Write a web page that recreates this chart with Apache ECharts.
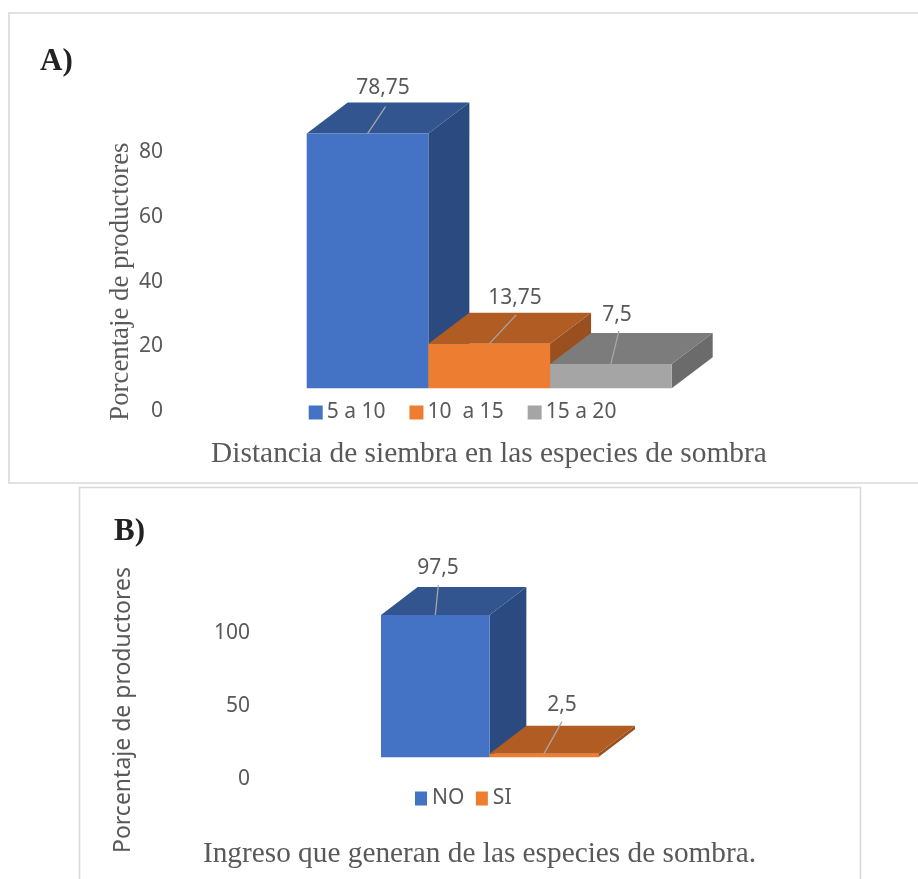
<!DOCTYPE html>
<html>
<head>
<meta charset="utf-8">
<style>html,body{margin:0;padding:0;background:#fff}#c{width:918px;height:879px}</style>
<script src="https://cdn.jsdelivr.net/npm/echarts@6/dist/echarts.min.js"></script>
</head>
<body>
<div id="c"></div>
<script>
// ---- data ----
const categoriesA = ['5 a 10', '10  a 15', '15 a 20'];
const valuesA = [78.75, 13.75, 7.5];
const ticksMaxA = 80, tickStepA = 20;
const categoriesB = ['NO', 'SI'];
const valuesB = [97.5, 2.5];
const ticksMaxB = 100, tickStepB = 50;
const yNameA = 'Porcentaje de productores';
const yNameB = 'Porcentaje de productores';
const xTitleA = 'Distancia de siembra en las especies de sombra';
const xTitleB = 'Ingreso que generan de las especies de sombra.';

// ---- styles ----
const palette = [
  {front: '#4472C4', top: '#325590', side: '#2B4A80'},
  {front: '#ED7D31', top: '#B15C23', side: '#99501E'},
  {front: '#A5A5A5', top: '#7C7C7C', side: '#6B6B6B'}
];
const sans = '"Noto Sans", sans-serif';
const serif = '"Liberation Serif", serif';
const ink = '#595959';
const leadersA = [[18, -27, 383, 88], [27, -29, 515, 298.5], [8, -33, 617, 315]];
const leadersB = [[3, -30, 438, 568], [18, -32, 562, 705]];

function barRenderer(pal, lift, dx, dy, leader) {
  return function (params, api) {
    const c = api.coord([api.value(0), api.value(1)]);
    const z = api.coord([api.value(0), 0]);
    const w = api.size([1, 0])[0];
    const x0 = c[0] - w / 2, x1 = c[0] + w / 2;
    const yT = c[1] - lift, yB = z[1] - lift;
    const txt = String(api.value(1)).replace('.', ',');
    const poly = (pts, fill) => ({type: 'polygon', shape: {points: pts}, style: {fill: fill}});
    return {
      type: 'group',
      children: [
        poly([[x1, yT], [x1 + dx, yT - dy], [x1 + dx, yB - dy], [x1, yB]], pal.side),
        poly([[x0, yT], [x0 + dx, yT - dy], [x1 + dx, yT - dy], [x1, yT]], pal.top),
        {type: 'rect', shape: {x: x0, y: yT, width: w, height: yB - yT}, style: {fill: pal.front}},
        {type: 'line', shape: {x1: c[0], y1: yT, x2: c[0] + leader[0], y2: yT + leader[1]},
          style: {stroke: '#A6A6A6', lineWidth: 1.3}},
        {type: 'text', style: {text: txt, x: leader[2], y: leader[3], align: 'center', verticalAlign: 'middle',
          fill: ink, font: '21px ' + sans}}
      ]
    };
  };
}

function buildSeries(cats, vals, xi, lift, dx, dy, leaders) {
  return cats.map((name, i) => ({
    type: 'custom', name: name, xAxisIndex: xi, yAxisIndex: xi,
    coordinateSystem: 'cartesian2d',
    itemStyle: {color: palette[i].front},
    encode: {x: 0, y: 1},
    data: [[i, vals[i]]],
    renderItem: barRenderer(palette[i], lift, dx, dy, leaders[i]),
    clip: false, silent: true
  }));
}

function yAxis(gi, max, step, name, margin, nameGap, font, size, pad) {
  return {
    type: 'value', gridIndex: gi, min: 0, max: max, interval: step,
    axisLine: {show: false}, axisTick: {show: false}, splitLine: {show: false},
    axisLabel: {margin: margin, color: ink, fontFamily: sans, fontSize: 21, padding: [3, 0, 0, 0]},
    name: name, nameLocation: 'middle', nameGap: nameGap,
    nameTextStyle: {color: ink, fontFamily: font, fontSize: size, padding: pad}
  };
}
function xAxis(gi, cats) {
  return {
    type: 'category', gridIndex: gi, data: cats,
    axisLine: {show: false}, axisTick: {show: false}, axisLabel: {show: false}
  };
}

const frame = (x, y, w, h) => ({
  type: 'rect', silent: true, shape: {x: x, y: y, width: w, height: h},
  style: {fill: 'none', stroke: '#D9D9D9', lineWidth: 1.6}
});

const chart = echarts.init(document.getElementById('c'));
chart.setOption({
  animation: false,
  backgroundColor: '#fff',
  graphic: [frame(9, 13, 925, 470), frame(79.5, 487.5, 781, 420)],
  title: [
    {text: 'A)', left: 35, top: 41, textStyle: {fontFamily: serif, fontWeight: 'bold', fontSize: 31, color: '#222'}},
    {text: 'B)', left: 109, top: 511, textStyle: {fontFamily: serif, fontWeight: 'bold', fontSize: 31, color: '#222'}},
    {text: xTitleA, left: 484, top: 434.5, textAlign: 'center', textStyle: {fontFamily: serif, fontWeight: 'normal', fontSize: 29.4, color: ink}},
    {text: xTitleB, left: 474.5, top: 834.5, textAlign: 'center', textStyle: {fontFamily: serif, fontWeight: 'normal', fontSize: 29.3, color: ink}}
  ],
  grid: [
    {left: 306.7, top: 152.2, width: 365, height: 258.8},
    {left: 381, top: 633, width: 217.3, height: 146}
  ],
  xAxis: [xAxis(0, categoriesA), xAxis(1, categoriesB)],
  yAxis: [
    yAxis(0, ticksMaxA, tickStepA, yNameA, 143.7, 172, serif, 26.8, [0, 0, 0, 0]),
    yAxis(1, ticksMaxB, tickStepB, yNameB, 131, 246, sans, 23, [0, 8, 0, 0])
  ],
  legend: [
    {data: categoriesA, left: 303.7, top: 397, icon: 'rect', itemWidth: 14, itemHeight: 14, itemGap: 24,
      selectedMode: false, textStyle: {color: ink, fontFamily: sans, fontSize: 21, padding: [0, 0, 0, -1]}},
    {data: categoriesB, left: 410, top: 783, icon: 'rect', itemWidth: 12, itemHeight: 14, itemGap: 11.5,
      selectedMode: false, textStyle: {color: ink, fontFamily: sans, fontSize: 21}}
  ],
  series: [].concat(
    buildSeries(categoriesA, valuesA, 0, 22.7, 41, 31, leadersA),
    buildSeries(categoriesB, valuesB, 1, 21.7, 36.7, 28, leadersB)
  )
});
</script>
</body>
</html>
